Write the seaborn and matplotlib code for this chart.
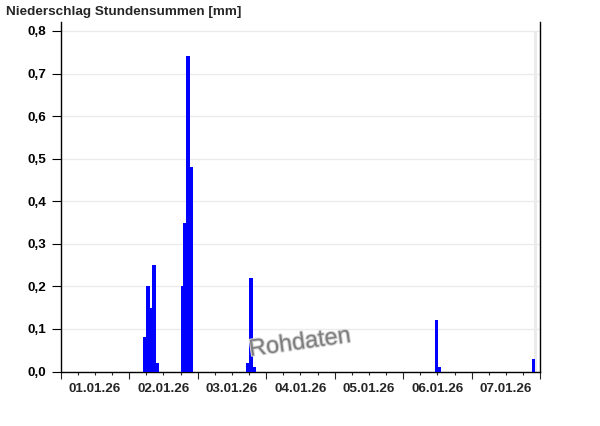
import numpy as np
import pandas as pd
import matplotlib
matplotlib.use("Agg")
import matplotlib.pyplot as plt
import matplotlib.patheffects as pe
import seaborn as sns

# hourly precipitation sums (start of hour), mm
start = pd.Timestamp("2026-01-01 00:00")
rain_times = ["2026-01-02 05:00", "2026-01-02 06:00", "2026-01-02 07:00", "2026-01-02 08:00", "2026-01-02 09:00",
              "2026-01-02 18:00", "2026-01-02 19:00", "2026-01-02 20:00", "2026-01-02 21:00",
              "2026-01-03 17:00", "2026-01-03 18:00", "2026-01-03 19:00",
              "2026-01-06 11:00", "2026-01-06 12:00",
              "2026-01-07 21:00"]
rain_mm = [0.08, 0.20, 0.15, 0.25, 0.02,
           0.20, 0.35, 0.74, 0.48,
           0.02, 0.22, 0.01,
           0.12, 0.01,
           0.03]
missing_times = ["2026-01-07 22:00"]
day_labels = ["01.01.26", "02.01.26", "03.01.26", "04.01.26", "05.01.26", "06.01.26", "07.01.26"]
y_ticks = [0.0, 0.1, 0.2, 0.3, 0.4, 0.5, 0.6, 0.7, 0.8]

sns.set_theme(style="white")
plt.rcParams["font.family"] = ["Liberation Sans", "DejaVu Sans"]
plt.rcParams["font.weight"] = "bold"
# seaborn's bars take their edge colour from here (default white -> seams)
plt.rcParams["patch.edgecolor"] = "#0000ff"

df = pd.DataFrame({"time": pd.to_datetime(rain_times), "mm": rain_mm})
df["hour"] = ((df["time"] - start) / pd.Timedelta(hours=1)).astype(float) + 0.5
miss_h = list((pd.to_datetime(missing_times) - start) / pd.Timedelta(hours=1))
n_hours = 24 * len(day_labels)
ytop = 0.821

fig = plt.figure(figsize=(6, 4.26), dpi=100)
ax = fig.add_axes([60.7 / 600, (426 - 371.5) / 426, 479.5 / 600, 349.5 / 426])

for h in miss_h:
    ax.axvspan(h, h + 1, ymax=max(y_ticks) / ytop, facecolor="#ebebeb", edgecolor="none",
               lw=0, zorder=0)

sns.histplot(data=df, x="hour", weights="mm", binwidth=1, binrange=(0, n_hours), color="#0000ff",
             alpha=1, ax=ax, zorder=3)
for p in ax.patches:
    if p.get_zorder() != 3:
        continue
    if p.get_height() == 0:
        p.set_visible(False)
    else:
        p.set_edgecolor("#0000ff")
        p.set_linewidth(0.5)
        p.set_antialiased(False)

ax.set_xlim(0, n_hours)
ax.set_ylim(0, ytop)
ax.set_xlabel("")
ax.set_ylabel("")

ax.set_yticks(y_ticks, labels=[f"{v:.1f}".replace(".", ",") for v in y_ticks])
ax.yaxis.grid(True, color="#ebebeb", lw=1)
ax.set_axisbelow(True)

# day ticks (long), 6h ticks (short), labels at noon
ax.set_xticks(np.arange(0, n_hours + 1, 24), labels=[])
minor = [h for h in range(6, n_hours, 6) if h % 24]
ax.set_xticks(minor, labels=[day_labels[h // 24] if h % 24 == 12 else "" for h in minor], minor=True)

ax.tick_params(axis="y", length=6.5, width=0.8, pad=4, labelsize=9.7, colors="black", left=True)
ax.tick_params(axis="x", which="major", length=4.7, width=0.8, bottom=True)
ax.tick_params(axis="x", which="minor", length=2.5, width=0.8, pad=5.5, labelsize=9.7, bottom=True)

for s in ["left", "bottom", "right"]:
    ax.spines[s].set_color("black")
    ax.spines[s].set_linewidth(1)
ax.spines["top"].set_visible(False)

fig.text(6 / 600, 1 - 15 / 426, "Niederschlag Stundensummen [mm]", fontsize=9.7,
         fontweight="bold", va="baseline", ha="left")
fig.text(0.5, 1 - 343 / 426, "Rohdaten", fontsize=17, fontweight="normal", color="#7f7f7f",
         ha="center", va="center", rotation=8, rotation_mode="anchor", zorder=5,
         path_effects=[pe.withStroke(linewidth=1.5, foreground="#d6d6d6")])

fig.savefig("out.png", dpi=100)
